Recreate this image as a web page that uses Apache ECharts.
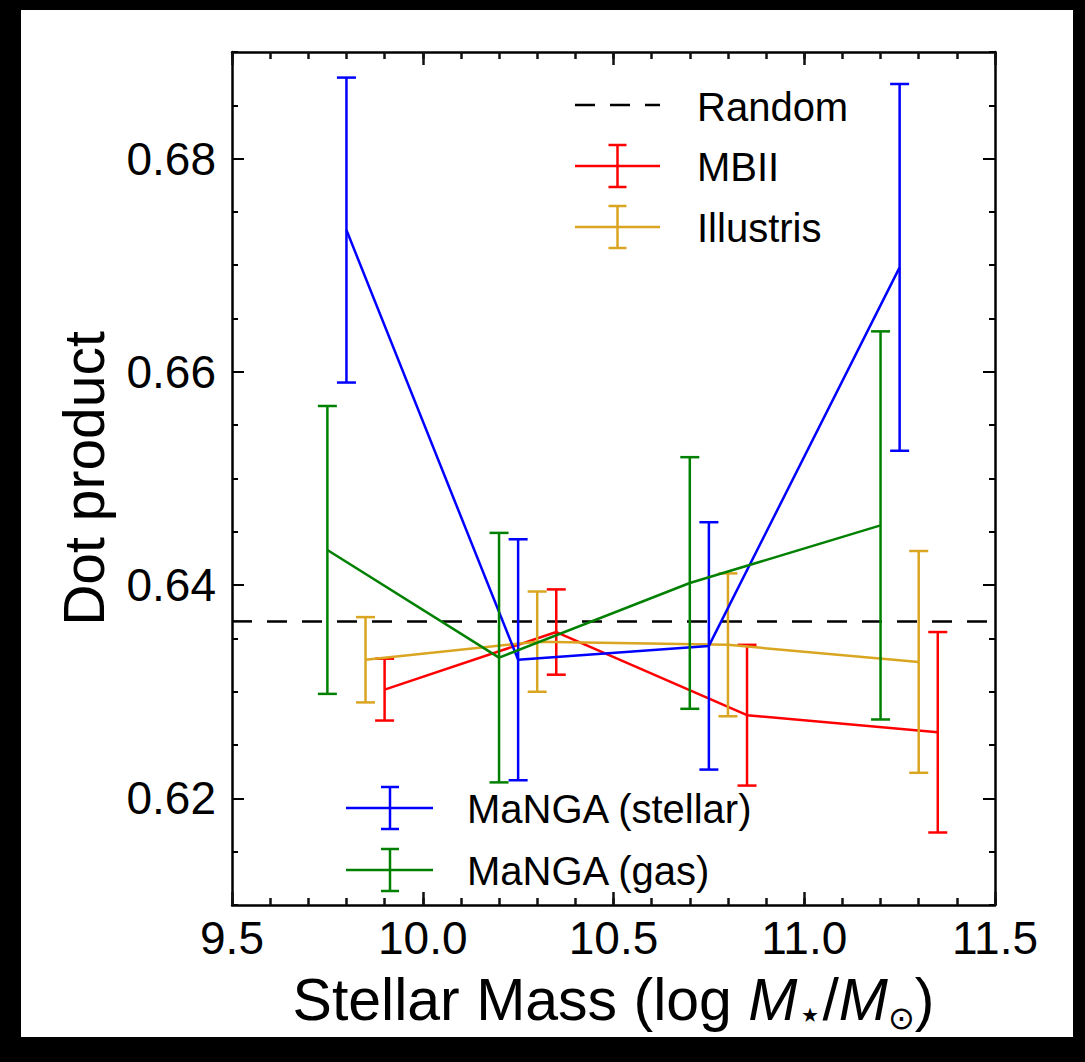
<!DOCTYPE html>
<html><head><meta charset="utf-8">
<script src="https://cdn.jsdelivr.net/npm/echarts@6/dist/echarts.min.js"></script>
<style>
html,body{margin:0;padding:0;background:#000;width:1085px;height:1062px;overflow:hidden;}
#bg{position:absolute;left:21px;top:10px;width:1052px;height:1027px;background:#fff;}
#c{position:absolute;left:0;top:0;width:1085px;height:1062px;}
</style>
</head><body><div id="bg"></div><div id="c"></div>
<script>
// ---- data ----
const stellarX = [9.8, 10.25, 10.75, 11.25];
const stellarY = [0.6733, 0.6330, 0.6343, 0.6698];
const stellarErr = [0.0143, 0.0113, 0.0116, 0.0172];

const gasX = [9.75, 10.2, 10.7, 11.2];
const gasY = [0.6433, 0.6332, 0.6402, 0.6456];
const gasErr = [0.0135, 0.0117, 0.0118, 0.0182];

const mbiiX = [9.9, 10.35, 10.85, 11.35];
const mbiiY = [0.6302, 0.6356, 0.6278, 0.6262];
const mbiiErr = [0.0029, 0.0040, 0.0066, 0.0094];

const illX = [9.85, 10.3, 10.8, 11.3];
const illY = [0.6330, 0.6347, 0.6344, 0.6328];
const illErr = [0.0040, 0.0047, 0.0067, 0.0104];

const randomValue = 0.6366;

const xRange = [9.5, 11.5];
const yRange = [0.61, 0.69];
const xTicks = [9.5, 10.0, 10.5, 11.0, 11.5];
const yTicks = [0.62, 0.64, 0.66, 0.68];

// ---- styling ----
const FONT = "'Liberation Sans', Arial, Helvetica, sans-serif";
const C = {stellar:'#0000ff', gas:'#008000', mbii:'#ff0000', ill:'#daa520'};
const LW = 2.5;

function lineSeries(name, xs, ys, color, z){
  return {type:'line', name, data: xs.map((x,i)=>[x, ys[i]]), symbol:'none',
    lineStyle:{color, width:LW}, itemStyle:{color}, z, silent:true, animation:false};
}
function errSeries(name, xs, ys, es, color, z){
  return {type:'custom', name, z, silent:true, animation:false,
    data: xs.map((x,i)=>[x, ys[i]-es[i], ys[i]+es[i]]),
    encode:{x:0, y:[1,2]},
    renderItem:(params, api)=>{
      const lo = api.coord([api.value(0), api.value(1)]);
      const hi = api.coord([api.value(0), api.value(2)]);
      const w = 9.5;
      const style = {stroke:color, lineWidth:LW};
      return {type:'group', children:[
        {type:'line', shape:{x1:lo[0], y1:lo[1], x2:hi[0], y2:hi[1]}, style},
        {type:'line', shape:{x1:lo[0]-w, y1:lo[1], x2:lo[0]+w, y2:lo[1]}, style},
        {type:'line', shape:{x1:hi[0]-w, y1:hi[1], x2:hi[0]+w, y2:hi[1]}, style}
      ]};
    }};
}

const axisLine = {show:true, lineStyle:{color:'#000', width:2.5}};
function xMajor(pos, labels){
  return {type:'value', position:pos, min:xRange[0], max:xRange[1], interval:0.5,
    axisLine, splitLine:{show:false},
    axisTick:{show:true, inside:true, length:13, customValues:xTicks, lineStyle:{color:'#111', width:2.5}},
    axisLabel:{show:labels, customValues:xTicks, fontFamily:FONT, fontSize:46, color:'#000', margin:10,
      formatter:v=>v.toFixed(1)},
    name: labels ? 'Stellar Mass (log {i|M}{st|⋆}/{i|M}{s|⊙})' : '',
    nameLocation:'middle', nameGap:57,
    nameTextStyle:{fontFamily:FONT, fontSize:59, color:'#000', lineHeight:68,
      rich:{
        i:{fontFamily:FONT, fontStyle:'italic', fontSize:59, lineHeight:68, color:'#000'},
        st:{fontFamily:"'DejaVu Sans', sans-serif", fontSize:40, lineHeight:38, verticalAlign:'bottom', color:'#000'},
        s:{fontFamily:"'DejaVu Sans', sans-serif", fontSize:32, lineHeight:32, verticalAlign:'bottom', color:'#000'}
      }}
  };
}
function xMinor(pos){
  return {type:'value', position:pos, min:xRange[0], max:xRange[1], interval:0.1,
    axisLine:{show:false}, splitLine:{show:false},
    axisTick:{show:true, inside:true, length:7, lineStyle:{color:'#111', width:2.5}},
    axisLabel:{show:false}};
}
function yMajor(pos, labels){
  return {type:'value', position:pos, min:yRange[0], max:yRange[1], interval:0.005,
    axisLine, splitLine:{show:false},
    axisTick:{show:true, inside:true, length:12, customValues:yTicks, lineStyle:{color:'#000', width:2}},
    axisLabel:{show:labels, customValues:yTicks, fontFamily:FONT, fontSize:46, color:'#000', margin:16,
      formatter:v=>v.toFixed(2)},
    name: labels ? 'Dot product' : '', nameLocation:'middle', nameGap:120,
    nameTextStyle:{fontFamily:FONT, fontSize:57, color:'#000'}
  };
}
function yMinor(pos){
  return {type:'value', position:pos, min:yRange[0], max:yRange[1], interval:0.005,
    axisLine:{show:false}, splitLine:{show:false},
    axisTick:{show:true, inside:true, length:6, lineStyle:{color:'#000', width:2}},
    axisLabel:{show:false}};
}

const chart = echarts.init(document.getElementById('c'), null, {renderer:'svg'});

function legendErr(cx, cy, color, x1, x2){
  const st = {stroke:color, lineWidth:LW};
  return [
    {type:'line', shape:{x1:x1, y1:cy, x2:x2, y2:cy}, style:st},
    {type:'line', shape:{x1:cx, y1:cy-21, x2:cx, y2:cy+21}, style:st},
    {type:'line', shape:{x1:cx-9, y1:cy-21, x2:cx+9, y2:cy-21}, style:st},
    {type:'line', shape:{x1:cx-9, y1:cy+21, x2:cx+9, y2:cy+21}, style:st}
  ];
}
function legendText(x, y, t){
  return {type:'text', x, y, style:{text:t, fontFamily:FONT, fontSize:40, fill:'#000',
    textAlign:'left', textVerticalAlign:'middle'}};
}

const graphic = [].concat(
  [{type:'line', shape:{x1:575, y1:105, x2:660, y2:105}, style:{stroke:'#000', lineWidth:LW, lineDash:[20,15]}}],
  [legendText(697, 107, 'Random')],
  legendErr(617.5, 166, C.mbii, 575, 660), [legendText(697, 167, 'MBII')],
  legendErr(617.5, 227, C.ill, 575, 660), [legendText(697, 228, 'Illustris')],
  legendErr(390, 808, C.stellar, 346, 433), [legendText(467, 809, 'MaNGA (stellar)')],
  legendErr(390, 870, C.gas, 346, 433), [legendText(467, 871, 'MaNGA (gas)')]
);

chart.setOption({
  animation:false,
  backgroundColor:'transparent',
  grid:{left:232, top:52, right:90, bottom:157, containLabel:false},
  xAxis:[xMajor('bottom', true), xMajor('top', false), xMinor('bottom'), xMinor('top')],
  yAxis:[yMajor('left', true), yMajor('right', false), yMinor('left'), yMinor('right')],
  series:[
    {type:'line', name:'Random', data:[[xRange[0], randomValue],[xRange[1], randomValue]], symbol:'none',
      lineStyle:{color:'#000', width:LW, type:[20,15]}, z:2, silent:true},
    lineSeries('MBII', mbiiX, mbiiY, C.mbii, 3),
    errSeries('MBII err', mbiiX, mbiiY, mbiiErr, C.mbii, 3),
    lineSeries('Illustris', illX, illY, C.ill, 4),
    errSeries('Illustris err', illX, illY, illErr, C.ill, 4),
    lineSeries('MaNGA (stellar)', stellarX, stellarY, C.stellar, 5),
    errSeries('MaNGA (stellar) err', stellarX, stellarY, stellarErr, C.stellar, 5),
    lineSeries('MaNGA (gas)', gasX, gasY, C.gas, 6),
    errSeries('MaNGA (gas) err', gasX, gasY, gasErr, C.gas, 6)
  ],
  graphic
});
</script>
</body></html>
